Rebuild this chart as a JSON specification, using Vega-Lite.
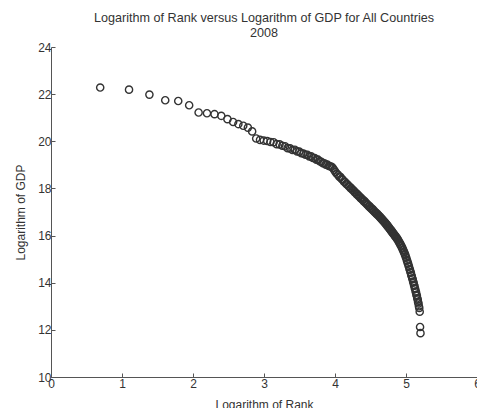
{
  "$schema": "https://vega.github.io/schema/vega-lite/v6.json",
  "autosize": {"type": "none"},
  "padding": {"left": 51, "top": 47, "right": 0, "bottom": 31},
  "width": 426,
  "height": 330,
  "background": "white",
  "title": {
    "text": ["Logarithm of Rank versus Logarithm of GDP for All Countries", "2008"],
    "fontSize": 12.6,
    "fontWeight": "normal",
    "font": "Liberation Sans",
    "color": "#333333",
    "anchor": "middle",
    "lineHeight": 15,
    "offset": 1
  },
  "config": {
    "view": {"stroke": null},
    "axis": {
      "grid": false,
      "domainColor": "#555555",
      "domainWidth": 1,
      "tickColor": "#555555",
      "tickSize": -4,
      "labelFont": "Liberation Sans",
      "labelFontSize": 12,
      "labelColor": "#333333",
      "titleFont": "Liberation Sans",
      "titleFontSize": 12,
      "titleFontWeight": "normal",
      "titleColor": "#333333"
    }
  },
  "data": {
    "values": [
      {"rank": 2, "x": 0.693, "y": 22.28},
      {"rank": 3, "x": 1.099, "y": 22.19},
      {"rank": 4, "x": 1.386, "y": 21.98},
      {"rank": 5, "x": 1.609, "y": 21.74},
      {"rank": 6, "x": 1.792, "y": 21.71},
      {"rank": 7, "x": 1.946, "y": 21.53},
      {"rank": 8, "x": 2.079, "y": 21.22},
      {"rank": 9, "x": 2.197, "y": 21.19},
      {"rank": 10, "x": 2.303, "y": 21.15},
      {"rank": 11, "x": 2.398, "y": 21.08},
      {"rank": 12, "x": 2.485, "y": 20.94},
      {"rank": 13, "x": 2.565, "y": 20.82},
      {"rank": 14, "x": 2.639, "y": 20.73},
      {"rank": 15, "x": 2.708, "y": 20.66},
      {"rank": 16, "x": 2.773, "y": 20.58},
      {"rank": 17, "x": 2.833, "y": 20.42},
      {"rank": 18, "x": 2.890, "y": 20.12},
      {"rank": 19, "x": 2.944, "y": 20.06},
      {"rank": 20, "x": 2.996, "y": 20.03},
      {"rank": 21, "x": 3.045, "y": 20.01},
      {"rank": 22, "x": 3.091, "y": 19.97},
      {"rank": 23, "x": 3.135, "y": 19.96},
      {"rank": 24, "x": 3.178, "y": 19.88},
      {"rank": 25, "x": 3.219, "y": 19.87},
      {"rank": 26, "x": 3.258, "y": 19.81},
      {"rank": 27, "x": 3.296, "y": 19.79},
      {"rank": 28, "x": 3.332, "y": 19.71},
      {"rank": 29, "x": 3.367, "y": 19.70},
      {"rank": 30, "x": 3.401, "y": 19.63},
      {"rank": 31, "x": 3.434, "y": 19.64},
      {"rank": 32, "x": 3.466, "y": 19.57},
      {"rank": 33, "x": 3.497, "y": 19.56},
      {"rank": 34, "x": 3.526, "y": 19.49},
      {"rank": 35, "x": 3.555, "y": 19.48},
      {"rank": 36, "x": 3.584, "y": 19.43},
      {"rank": 37, "x": 3.611, "y": 19.43},
      {"rank": 38, "x": 3.638, "y": 19.36},
      {"rank": 39, "x": 3.664, "y": 19.36},
      {"rank": 40, "x": 3.689, "y": 19.29},
      {"rank": 41, "x": 3.714, "y": 19.29},
      {"rank": 42, "x": 3.738, "y": 19.22},
      {"rank": 43, "x": 3.761, "y": 19.22},
      {"rank": 44, "x": 3.784, "y": 19.15},
      {"rank": 45, "x": 3.807, "y": 19.13},
      {"rank": 46, "x": 3.829, "y": 19.07},
      {"rank": 47, "x": 3.850, "y": 19.07},
      {"rank": 48, "x": 3.871, "y": 19.01},
      {"rank": 49, "x": 3.892, "y": 19.01},
      {"rank": 50, "x": 3.912, "y": 18.95},
      {"rank": 51, "x": 3.932, "y": 18.94},
      {"rank": 52, "x": 3.951, "y": 18.92},
      {"rank": 53, "x": 3.970, "y": 18.87},
      {"rank": 54, "x": 3.989, "y": 18.78},
      {"rank": 55, "x": 4.007, "y": 18.70},
      {"rank": 56, "x": 4.025, "y": 18.62},
      {"rank": 57, "x": 4.043, "y": 18.58},
      {"rank": 58, "x": 4.060, "y": 18.50},
      {"rank": 59, "x": 4.078, "y": 18.48},
      {"rank": 60, "x": 4.094, "y": 18.40},
      {"rank": 61, "x": 4.111, "y": 18.37},
      {"rank": 62, "x": 4.127, "y": 18.28},
      {"rank": 63, "x": 4.143, "y": 18.27},
      {"rank": 64, "x": 4.159, "y": 18.19},
      {"rank": 65, "x": 4.174, "y": 18.18},
      {"rank": 66, "x": 4.190, "y": 18.10},
      {"rank": 67, "x": 4.205, "y": 18.08},
      {"rank": 68, "x": 4.220, "y": 18.01},
      {"rank": 69, "x": 4.234, "y": 18.00},
      {"rank": 70, "x": 4.248, "y": 17.93},
      {"rank": 71, "x": 4.263, "y": 17.91},
      {"rank": 72, "x": 4.277, "y": 17.84},
      {"rank": 73, "x": 4.290, "y": 17.83},
      {"rank": 74, "x": 4.304, "y": 17.76},
      {"rank": 75, "x": 4.317, "y": 17.75},
      {"rank": 76, "x": 4.331, "y": 17.68},
      {"rank": 77, "x": 4.344, "y": 17.67},
      {"rank": 78, "x": 4.357, "y": 17.60},
      {"rank": 79, "x": 4.369, "y": 17.59},
      {"rank": 80, "x": 4.382, "y": 17.53},
      {"rank": 81, "x": 4.394, "y": 17.52},
      {"rank": 82, "x": 4.407, "y": 17.45},
      {"rank": 83, "x": 4.419, "y": 17.45},
      {"rank": 84, "x": 4.431, "y": 17.38},
      {"rank": 85, "x": 4.443, "y": 17.37},
      {"rank": 86, "x": 4.454, "y": 17.31},
      {"rank": 87, "x": 4.466, "y": 17.30},
      {"rank": 88, "x": 4.477, "y": 17.24},
      {"rank": 89, "x": 4.489, "y": 17.24},
      {"rank": 90, "x": 4.500, "y": 17.17},
      {"rank": 91, "x": 4.511, "y": 17.17},
      {"rank": 92, "x": 4.522, "y": 17.11},
      {"rank": 93, "x": 4.533, "y": 17.11},
      {"rank": 94, "x": 4.543, "y": 17.04},
      {"rank": 95, "x": 4.554, "y": 17.04},
      {"rank": 96, "x": 4.564, "y": 16.98},
      {"rank": 97, "x": 4.575, "y": 16.98},
      {"rank": 98, "x": 4.585, "y": 16.92},
      {"rank": 99, "x": 4.595, "y": 16.92},
      {"rank": 100, "x": 4.605, "y": 16.86},
      {"rank": 101, "x": 4.615, "y": 16.86},
      {"rank": 102, "x": 4.625, "y": 16.80},
      {"rank": 103, "x": 4.635, "y": 16.80},
      {"rank": 104, "x": 4.644, "y": 16.74},
      {"rank": 105, "x": 4.654, "y": 16.73},
      {"rank": 106, "x": 4.663, "y": 16.67},
      {"rank": 107, "x": 4.673, "y": 16.67},
      {"rank": 108, "x": 4.682, "y": 16.61},
      {"rank": 109, "x": 4.691, "y": 16.61},
      {"rank": 110, "x": 4.700, "y": 16.55},
      {"rank": 111, "x": 4.710, "y": 16.54},
      {"rank": 112, "x": 4.718, "y": 16.48},
      {"rank": 113, "x": 4.727, "y": 16.48},
      {"rank": 114, "x": 4.736, "y": 16.41},
      {"rank": 115, "x": 4.745, "y": 16.41},
      {"rank": 116, "x": 4.754, "y": 16.34},
      {"rank": 117, "x": 4.762, "y": 16.34},
      {"rank": 118, "x": 4.771, "y": 16.28},
      {"rank": 119, "x": 4.779, "y": 16.27},
      {"rank": 120, "x": 4.787, "y": 16.21},
      {"rank": 121, "x": 4.796, "y": 16.21},
      {"rank": 122, "x": 4.804, "y": 16.14},
      {"rank": 123, "x": 4.812, "y": 16.14},
      {"rank": 124, "x": 4.820, "y": 16.08},
      {"rank": 125, "x": 4.828, "y": 16.08},
      {"rank": 126, "x": 4.836, "y": 16.02},
      {"rank": 127, "x": 4.844, "y": 16.01},
      {"rank": 128, "x": 4.852, "y": 15.95},
      {"rank": 129, "x": 4.860, "y": 15.95},
      {"rank": 130, "x": 4.868, "y": 15.89},
      {"rank": 131, "x": 4.875, "y": 15.88},
      {"rank": 132, "x": 4.883, "y": 15.82},
      {"rank": 133, "x": 4.890, "y": 15.81},
      {"rank": 134, "x": 4.898, "y": 15.74},
      {"rank": 135, "x": 4.905, "y": 15.73},
      {"rank": 136, "x": 4.913, "y": 15.66},
      {"rank": 137, "x": 4.920, "y": 15.65},
      {"rank": 138, "x": 4.927, "y": 15.58},
      {"rank": 139, "x": 4.934, "y": 15.57},
      {"rank": 140, "x": 4.942, "y": 15.49},
      {"rank": 141, "x": 4.949, "y": 15.48},
      {"rank": 142, "x": 4.956, "y": 15.40},
      {"rank": 143, "x": 4.963, "y": 15.38},
      {"rank": 144, "x": 4.970, "y": 15.30},
      {"rank": 145, "x": 4.977, "y": 15.28},
      {"rank": 146, "x": 4.984, "y": 15.20},
      {"rank": 147, "x": 4.990, "y": 15.18},
      {"rank": 148, "x": 4.997, "y": 15.09},
      {"rank": 149, "x": 5.004, "y": 15.06},
      {"rank": 150, "x": 5.011, "y": 14.96},
      {"rank": 151, "x": 5.017, "y": 14.93},
      {"rank": 152, "x": 5.024, "y": 14.84},
      {"rank": 153, "x": 5.030, "y": 14.81},
      {"rank": 154, "x": 5.037, "y": 14.72},
      {"rank": 155, "x": 5.043, "y": 14.68},
      {"rank": 156, "x": 5.050, "y": 14.58},
      {"rank": 157, "x": 5.056, "y": 14.55},
      {"rank": 158, "x": 5.063, "y": 14.45},
      {"rank": 159, "x": 5.069, "y": 14.42},
      {"rank": 160, "x": 5.075, "y": 14.32},
      {"rank": 161, "x": 5.081, "y": 14.28},
      {"rank": 162, "x": 5.088, "y": 14.19},
      {"rank": 163, "x": 5.094, "y": 14.15},
      {"rank": 164, "x": 5.100, "y": 14.05},
      {"rank": 165, "x": 5.106, "y": 14.01},
      {"rank": 166, "x": 5.112, "y": 13.91},
      {"rank": 167, "x": 5.118, "y": 13.87},
      {"rank": 168, "x": 5.124, "y": 13.77},
      {"rank": 169, "x": 5.130, "y": 13.73},
      {"rank": 170, "x": 5.136, "y": 13.63},
      {"rank": 171, "x": 5.142, "y": 13.59},
      {"rank": 172, "x": 5.147, "y": 13.49},
      {"rank": 173, "x": 5.153, "y": 13.45},
      {"rank": 174, "x": 5.159, "y": 13.34},
      {"rank": 175, "x": 5.165, "y": 13.29},
      {"rank": 176, "x": 5.170, "y": 13.18},
      {"rank": 177, "x": 5.176, "y": 13.12},
      {"rank": 178, "x": 5.182, "y": 13.00},
      {"rank": 179, "x": 5.187, "y": 12.93},
      {"rank": 180, "x": 5.193, "y": 12.77},
      {"rank": 181, "x": 5.198, "y": 12.12},
      {"rank": 182, "x": 5.204, "y": 11.86}
    ]
  },
  "mark": {"type": "point", "shape": "circle", "filled": false, "size": 52, "stroke": "#333333", "strokeWidth": 1.4, "opacity": 1},
  "encoding": {
    "x": {
      "field": "x", "type": "quantitative",
      "scale": {"domain": [0, 6], "nice": false, "zero": false},
      "axis": {"title": "Logarithm of Rank", "values": [0, 1, 2, 3, 4, 5, 6], "labelPadding": 5, "titlePadding": 10, "labelFlush": false}
    },
    "y": {
      "field": "y", "type": "quantitative",
      "scale": {"domain": [10, 24], "nice": false, "zero": false},
      "axis": {"title": "Logarithm of GDP", "values": [10, 12, 14, 16, 18, 20, 22, 24], "labelPadding": 4, "titlePadding": 10, "labelFlush": false}
    }
  }
}
